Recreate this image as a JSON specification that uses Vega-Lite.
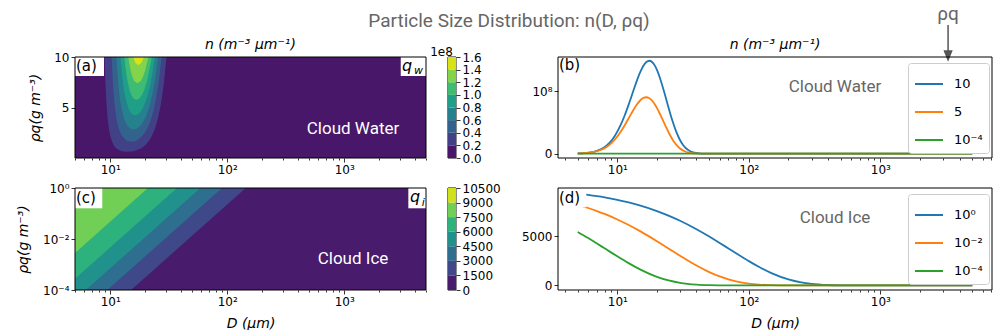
{
"$schema": "https://vega.github.io/schema/vega-lite/v6.json",
"background": "white",
"padding": {"left": 16, "top": 5, "right": 0, "bottom": 0},
"config": {
  "view": {"stroke": null},
  "axis": {"labelFont": "DejaVu Sans", "labelFontSize": 12, "labelColor": "#000", "tickColor": "#000", "tickWidth": 0.8, "domain": false, "grid": false, "titleFont": "DejaVu Sans", "titleFontSize": 14, "titleFontWeight": "normal", "titleFontStyle": "italic", "titleColor": "#000", "labelPadding": 2, "zindex": 1, "labelOverlap": false, "labelFlush": false}
},
"datasets": {
  "contourW": [
    {"level":0.2,"q":0.614,"Dlo":14.0,"Dhi":14.0},{"level":0.2,"q":0.634,"Dlo":13.16,"Dhi":14.95},{"level":0.2,"q":0.67,"Dlo":12.65,"Dhi":15.64},{"level":0.2,"q":0.716,"Dlo":12.27,"Dhi":16.27},{"level":0.2,"q":0.83,"Dlo":11.68,"Dhi":17.36},{"level":0.2,"q":0.972,"Dlo":11.25,"Dhi":18.37},{"level":0.2,"q":1.069,"Dlo":11.04,"Dhi":18.93},{"level":0.2,"q":1.222,"Dlo":10.79,"Dhi":19.67},{"level":0.2,"q":1.456,"Dlo":10.51,"Dhi":20.61},{"level":0.2,"q":1.79,"Dlo":10.24,"Dhi":21.68},{"level":0.2,"q":2.174,"Dlo":10.02,"Dhi":22.66},{"level":0.2,"q":2.831,"Dlo":9.76,"Dhi":23.98},{"level":0.2,"q":3.814,"Dlo":9.52,"Dhi":25.46},{"level":0.2,"q":5.216,"Dlo":9.31,"Dhi":27.01},{"level":0.2,"q":7.08,"Dlo":9.12,"Dhi":28.54},{"level":0.2,"q":10,"Dlo":8.94,"Dhi":30.3},
    {"level":0.4,"q":1.611,"Dlo":15.12,"Dhi":15.12},{"level":0.4,"q":1.661,"Dlo":14.22,"Dhi":16.14},{"level":0.4,"q":1.757,"Dlo":13.67,"Dhi":16.9},{"level":0.4,"q":1.877,"Dlo":13.26,"Dhi":17.57},{"level":0.4,"q":2.176,"Dlo":12.62,"Dhi":18.76},{"level":0.4,"q":2.548,"Dlo":12.16,"Dhi":19.84},{"level":0.4,"q":2.803,"Dlo":11.93,"Dhi":20.45},{"level":0.4,"q":3.204,"Dlo":11.66,"Dhi":21.25},{"level":0.4,"q":3.82,"Dlo":11.35,"Dhi":22.27},{"level":0.4,"q":4.694,"Dlo":11.06,"Dhi":23.42},{"level":0.4,"q":5.7,"Dlo":10.82,"Dhi":24.48},{"level":0.4,"q":7.424,"Dlo":10.54,"Dhi":25.9},{"level":0.4,"q":10,"Dlo":10.28,"Dhi":27.5},
    {"level":0.6,"q":2.827,"Dlo":15.82,"Dhi":15.82},{"level":0.6,"q":2.914,"Dlo":14.87,"Dhi":16.89},{"level":0.6,"q":3.082,"Dlo":14.3,"Dhi":17.68},{"level":0.6,"q":3.293,"Dlo":13.87,"Dhi":18.38},{"level":0.6,"q":3.818,"Dlo":13.2,"Dhi":19.62},{"level":0.6,"q":4.47,"Dlo":12.72,"Dhi":20.75},{"level":0.6,"q":4.919,"Dlo":12.48,"Dhi":21.39},{"level":0.6,"q":5.621,"Dlo":12.19,"Dhi":22.23},{"level":0.6,"q":6.701,"Dlo":11.87,"Dhi":23.29},{"level":0.6,"q":8.237,"Dlo":11.57,"Dhi":24.5},{"level":0.6,"q":10,"Dlo":11.32,"Dhi":25.61},
    {"level":0.8,"q":4.218,"Dlo":16.33,"Dhi":16.33},{"level":0.8,"q":4.349,"Dlo":15.36,"Dhi":17.44},{"level":0.8,"q":4.599,"Dlo":14.76,"Dhi":18.25},{"level":0.8,"q":4.914,"Dlo":14.32,"Dhi":18.98},{"level":0.8,"q":5.697,"Dlo":13.63,"Dhi":20.26},{"level":0.8,"q":6.671,"Dlo":13.13,"Dhi":21.43},{"level":0.8,"q":7.34,"Dlo":12.88,"Dhi":22.09},{"level":0.8,"q":8.389,"Dlo":12.59,"Dhi":22.95},{"level":0.8,"q":10,"Dlo":12.26,"Dhi":24.05},
    {"level":1.0,"q":5.747,"Dlo":16.74,"Dhi":16.74},{"level":1.0,"q":5.925,"Dlo":15.74,"Dhi":17.87},{"level":1.0,"q":6.266,"Dlo":15.13,"Dhi":18.71},{"level":1.0,"q":6.695,"Dlo":14.68,"Dhi":19.46},{"level":1.0,"q":7.761,"Dlo":13.97,"Dhi":20.77},{"level":1.0,"q":9.088,"Dlo":13.46,"Dhi":21.96},{"level":1.0,"q":10,"Dlo":13.21,"Dhi":22.64},
    {"level":1.2,"q":7.405,"Dlo":17.08,"Dhi":17.08},{"level":1.2,"q":7.634,"Dlo":16.06,"Dhi":18.24},{"level":1.2,"q":8.073,"Dlo":15.44,"Dhi":19.09},{"level":1.2,"q":8.627,"Dlo":14.98,"Dhi":19.85},{"level":1.2,"q":10,"Dlo":14.26,"Dhi":21.19},
    {"level":1.4,"q":9.171,"Dlo":17.38,"Dhi":17.38},{"level":1.4,"q":9.456,"Dlo":16.34,"Dhi":18.55},{"level":1.4,"q":10,"Dlo":15.71,"Dhi":19.42}
  ],
  "contourI": [
    {"level":1500,"q":0.0001,"D":15.07},{"level":1500,"q":1,"D":143.9},
    {"level":3000,"q":0.0001,"D":9.45},{"level":3000,"q":1,"D":90.2},
    {"level":4500,"q":0.0001,"D":6.19},{"level":4500,"q":1,"D":59.1},
    {"level":6000,"q":0.000277,"D":5},{"level":6000,"q":1,"D":37.2},
    {"level":7500,"q":0.00284,"D":5},{"level":7500,"q":1,"D":21.0},
    {"level":9000,"q":0.181,"D":5},{"level":9000,"q":1,"D":7.6}
  ],
  "linesW": [
    {"rho":"10","D":5,"n":399000},{"rho":"10","D":6.125,"n":1833000},{"rho":"10","D":7,"n":4595000},{"rho":"10","D":7.875,"n":9679000},{"rho":"10","D":8.75,"n":17800000},{"rho":"10","D":9.625,"n":29310000},{"rho":"10","D":10.5,"n":44030000},{"rho":"10","D":11.375,"n":61270000},{"rho":"10","D":12.25,"n":79880000},{"rho":"10","D":13.125,"n":98440000},{"rho":"10","D":14,"n":115510000},{"rho":"10","D":14.875,"n":129830000},{"rho":"10","D":15.75,"n":140470000},{"rho":"10","D":16.625,"n":146900000},{"rho":"10","D":17.5,"n":149000000},{"rho":"10","D":18.375,"n":147030000},{"rho":"10","D":19.25,"n":141510000},{"rho":"10","D":20.125,"n":133130000},{"rho":"10","D":21,"n":122670000},{"rho":"10","D":22.75,"n":98490000},{"rho":"10","D":24.5,"n":74080000},{"rho":"10","D":26.25,"n":52670000},{"rho":"10","D":28,"n":35660000},{"rho":"10","D":29.75,"n":23130000},{"rho":"10","D":31.5,"n":14430000},{"rho":"10","D":35,"n":5097000},{"rho":"10","D":38.5,"n":1614000},{"rho":"10","D":43.75,"n":243000},{"rho":"10","D":52.5,"n":7400},{"rho":"10","D":70,"n":0},{"rho":"10","D":5000,"n":0},
    {"rho":"5","D":5,"n":373000},{"rho":"5","D":5.796,"n":1113000},{"rho":"5","D":6.624,"n":2790000},{"rho":"5","D":7.452,"n":5876000},{"rho":"5","D":8.28,"n":10806000},{"rho":"5","D":9.108,"n":17794000},{"rho":"5","D":9.936,"n":26730000},{"rho":"5","D":10.764,"n":37199000},{"rho":"5","D":11.592,"n":48497000},{"rho":"5","D":12.42,"n":59767000},{"rho":"5","D":13.248,"n":70126000},{"rho":"5","D":14.076,"n":78822000},{"rho":"5","D":14.904,"n":85279000},{"rho":"5","D":15.732,"n":89183000},{"rho":"5","D":16.56,"n":90460000},{"rho":"5","D":17.388,"n":89264000},{"rho":"5","D":18.216,"n":85912000},{"rho":"5","D":19.044,"n":80825000},{"rho":"5","D":19.872,"n":74474000},{"rho":"5","D":21.528,"n":59794000},{"rho":"5","D":23.184,"n":44975000},{"rho":"5","D":24.84,"n":31978000},{"rho":"5","D":26.496,"n":21651000},{"rho":"5","D":28.152,"n":14040000},{"rho":"5","D":29.808,"n":8763000},{"rho":"5","D":33.12,"n":3095000},{"rho":"5","D":36.432,"n":980000},{"rho":"5","D":41.4,"n":147000},{"rho":"5","D":49.68,"n":4500},{"rho":"5","D":70,"n":0},{"rho":"5","D":5000,"n":0},
    {"rho":"10⁻⁴","D":5,"n":21600},{"rho":"10⁻⁴","D":7,"n":37400},{"rho":"10⁻⁴","D":10,"n":16600},{"rho":"10⁻⁴","D":15,"n":540},{"rho":"10⁻⁴","D":30,"n":0},{"rho":"10⁻⁴","D":5000,"n":0}
  ],
  "linesI": [
    {"rho":"10⁰","D":5,"n":9324},{"rho":"10⁰","D":6,"n":9194},{"rho":"10⁰","D":7,"n":9066},{"rho":"10⁰","D":8,"n":8940},{"rho":"10⁰","D":10,"n":8694},{"rho":"10⁰","D":12,"n":8454},{"rho":"10⁰","D":15,"n":8106},{"rho":"10⁰","D":20,"n":7558},{"rho":"10⁰","D":25,"n":7047},{"rho":"10⁰","D":30,"n":6571},{"rho":"10⁰","D":40,"n":5712},{"rho":"10⁰","D":50,"n":4966},{"rho":"10⁰","D":60,"n":4317},{"rho":"10⁰","D":70,"n":3753},{"rho":"10⁰","D":80,"n":3263},{"rho":"10⁰","D":100,"n":2466},{"rho":"10⁰","D":120,"n":1864},{"rho":"10⁰","D":150,"n":1225},{"rho":"10⁰","D":200,"n":608},{"rho":"10⁰","D":250,"n":302},{"rho":"10⁰","D":300,"n":150},{"rho":"10⁰","D":400,"n":37},{"rho":"10⁰","D":500,"n":9},{"rho":"10⁰","D":700,"n":0},{"rho":"10⁰","D":1000,"n":0},{"rho":"10⁰","D":5000,"n":0},
    {"rho":"10⁻²","D":5,"n":8187},{"rho":"10⁻²","D":6,"n":7866},{"rho":"10⁻²","D":7,"n":7558},{"rho":"10⁻²","D":8,"n":7261},{"rho":"10⁻²","D":10,"n":6703},{"rho":"10⁻²","D":12,"n":6188},{"rho":"10⁻²","D":15,"n":5488},{"rho":"10⁻²","D":20,"n":4493},{"rho":"10⁻²","D":25,"n":3679},{"rho":"10⁻²","D":30,"n":3012},{"rho":"10⁻²","D":40,"n":2019},{"rho":"10⁻²","D":50,"n":1353},{"rho":"10⁻²","D":60,"n":907},{"rho":"10⁻²","D":70,"n":608},{"rho":"10⁻²","D":80,"n":408},{"rho":"10⁻²","D":100,"n":183},{"rho":"10⁻²","D":120,"n":82},{"rho":"10⁻²","D":150,"n":25},{"rho":"10⁻²","D":200,"n":3},{"rho":"10⁻²","D":300,"n":0},{"rho":"10⁻²","D":5000,"n":0},
    {"rho":"10⁻⁴","D":5,"n":5434},{"rho":"10⁻⁴","D":6,"n":4810},{"rho":"10⁻⁴","D":7,"n":4257},{"rho":"10⁻⁴","D":8,"n":3768},{"rho":"10⁻⁴","D":10,"n":2952},{"rho":"10⁻⁴","D":12,"n":2313},{"rho":"10⁻⁴","D":15,"n":1604},{"rho":"10⁻⁴","D":20,"n":872},{"rho":"10⁻⁴","D":25,"n":474},{"rho":"10⁻⁴","D":30,"n":257},{"rho":"10⁻⁴","D":40,"n":76},{"rho":"10⁻⁴","D":50,"n":22},{"rho":"10⁻⁴","D":60,"n":7},{"rho":"10⁻⁴","D":80,"n":1},{"rho":"10⁻⁴","D":100,"n":0},{"rho":"10⁻⁴","D":5000,"n":0}
  ],
  "cbW": [
    {"k":0,"lo":0,"hi":20000000},{"k":1,"lo":20000000,"hi":40000000},{"k":2,"lo":40000000,"hi":60000000},{"k":3,"lo":60000000,"hi":80000000},{"k":4,"lo":80000000,"hi":100000000},{"k":5,"lo":100000000,"hi":120000000},{"k":6,"lo":120000000,"hi":140000000},{"k":7,"lo":140000000,"hi":160000000}
  ],
  "cbI": [
    {"k":0,"lo":0,"hi":1500},{"k":1,"lo":1500,"hi":3000},{"k":2,"lo":3000,"hi":4500},{"k":3,"lo":4500,"hi":6000},{"k":4,"lo":6000,"hi":7500},{"k":5,"lo":7500,"hi":9000},{"k":6,"lo":9000,"hi":10500}
  ]
},
"bounds": "flush",
"columns": 2,
"spacing": {"row": 30, "column": 132},
"resolve": {"scale": {"color": "independent"}, "legend": {"color": "independent"}},
"concat": [
  {"width": 351, "height": 101,
   "view": {"fill": "#481769", "stroke": null},
   "resolve": {"scale": {"y": "independent"}},
   "layer": [
    {"layer": [
     {"data": {"name": "contourW"}, "transform": [{"filter": "datum.level == 0.2"}],
      "mark": {"type": "area", "orient": "horizontal", "color": "#424086", "opacity": 1},
      "encoding": {
       "y": {"field": "q", "type": "quantitative", "scale": {"domain": [0.0001, 10], "nice": false, "zero": false},
             "axis": {"values": [5, 10], "format": "d", "title": "ρq(g m⁻³)", "titlePadding": 11, "tickSize": 4, "labelOverlap": false}},
       "x": {"field": "Dlo", "type": "quantitative", "scale": {"type": "log", "domain": [5, 5000], "nice": false},
             "axis": {"values": [5,6,7,8,9,10,20,30,40,50,60,70,80,90,100,200,300,400,500,600,700,800,900,1000,2000,3000,4000,5000],
                      "labelExpr": "datum.value == 10 ? '10¹' : datum.value == 100 ? '10²' : datum.value == 1000 ? '10³' : ''",
                      "tickSize": {"condition": {"test": "datum.value == 10 || datum.value == 100 || datum.value == 1000", "value": 4}, "value": 2},
                      "title": null, "labelOverlap": false}},
       "x2": {"field": "Dhi"}}},
     {"data": {"name": "contourW"}, "transform": [{"filter": "datum.level == 0.4"}], "mark": {"type": "area", "orient": "horizontal", "color": "#33638d", "opacity": 1},
      "encoding": {"y": {"field": "q", "type": "quantitative"}, "x": {"field": "Dlo", "type": "quantitative"}, "x2": {"field": "Dhi"}}},
     {"data": {"name": "contourW"}, "transform": [{"filter": "datum.level == 0.6"}], "mark": {"type": "area", "orient": "horizontal", "color": "#26818e", "opacity": 1},
      "encoding": {"y": {"field": "q", "type": "quantitative"}, "x": {"field": "Dlo", "type": "quantitative"}, "x2": {"field": "Dhi"}}},
     {"data": {"name": "contourW"}, "transform": [{"filter": "datum.level == 0.8"}], "mark": {"type": "area", "orient": "horizontal", "color": "#1f9f88", "opacity": 1},
      "encoding": {"y": {"field": "q", "type": "quantitative"}, "x": {"field": "Dlo", "type": "quantitative"}, "x2": {"field": "Dhi"}}},
     {"data": {"name": "contourW"}, "transform": [{"filter": "datum.level == 1.0"}], "mark": {"type": "area", "orient": "horizontal", "color": "#3fbc73", "opacity": 1},
      "encoding": {"y": {"field": "q", "type": "quantitative"}, "x": {"field": "Dlo", "type": "quantitative"}, "x2": {"field": "Dhi"}}},
     {"data": {"name": "contourW"}, "transform": [{"filter": "datum.level == 1.2"}], "mark": {"type": "area", "orient": "horizontal", "color": "#84d44b", "opacity": 1},
      "encoding": {"y": {"field": "q", "type": "quantitative"}, "x": {"field": "Dlo", "type": "quantitative"}, "x2": {"field": "Dhi"}}},
     {"data": {"name": "contourW"}, "transform": [{"filter": "datum.level == 1.4"}], "mark": {"type": "area", "orient": "horizontal", "color": "#d8e219", "opacity": 1},
      "encoding": {"y": {"field": "q", "type": "quantitative"}, "x": {"field": "Dlo", "type": "quantitative"}, "x2": {"field": "Dhi"}}},
     {"data": {"values": [{}]}, "mark": {"type": "rect", "fill": "white"},
      "encoding": {"x": {"datum": 5}, "x2": {"datum": 8.85}, "y": {"datum": 8.12}, "y2": {"datum": 10}}},
     {"data": {"values": [{}]}, "mark": {"type": "rect", "fill": "white"},
      "encoding": {"x": {"datum": 3041}, "x2": {"datum": 5000}, "y": {"datum": 8.12}, "y2": {"datum": 10}}},
     {"data": {"values": [{}]}, "mark": {"type": "text", "text": "(a)", "align": "left", "baseline": "middle", "font": "DejaVu Sans", "fontSize": 15, "color": "#000"},
      "encoding": {"x": {"datum": 5.1}, "y": {"datum": 9.06}}},
     {"data": {"values": [{}]}, "mark": {"type": "text", "text": "q", "align": "left", "baseline": "alphabetic", "font": "DejaVu Sans", "fontStyle": "italic", "fontSize": 16, "color": "#000"},
      "encoding": {"x": {"datum": 3119}, "y": {"datum": 8.66}}},
     {"data": {"values": [{}]}, "mark": {"type": "text", "text": "w", "align": "left", "baseline": "alphabetic", "font": "DejaVu Sans", "fontStyle": "italic", "fontSize": 11, "color": "#000"},
      "encoding": {"x": {"datum": 3945}, "y": {"datum": 8.32}}},
     {"data": {"values": [{}]}, "mark": {"type": "text", "text": "Cloud Water", "align": "center", "baseline": "middle", "font": "Roboto", "fontSize": 17, "color": "white"},
      "encoding": {"x": {"datum": 1189}, "y": {"datum": 2.92}}},
     {"data": {"values": [{}]}, "mark": {"type": "text", "text": "n (m⁻³ μm⁻¹)", "align": "center", "baseline": "alphabetic", "font": "DejaVu Sans", "fontStyle": "italic", "fontSize": 14, "color": "#000"},
      "encoding": {"x": {"datum": 158}, "y": {"datum": 10.79}}},
     {"data": {"values": [{}]}, "mark": {"type": "rect", "fill": "transparent", "stroke": "#000", "strokeWidth": 1},
      "encoding": {"x": {"datum": 5}, "x2": {"datum": 5000}, "y": {"datum": 0.0001}, "y2": {"datum": 10}}},
     {"data": {"values": [{}]}, "mark": {"type": "rect", "fill": "transparent", "stroke": "#000", "strokeWidth": 1},
      "encoding": {"x": {"datum": 7709}, "x2": {"datum": 9016}, "y": {"datum": 0.0001}, "y2": {"datum": 10}}}
    ]},
    {"data": {"name": "cbW"}, "mark": {"type": "rect"},
     "encoding": {
      "x": {"datum": 7709}, "x2": {"datum": 9016},
      "y": {"field": "lo", "type": "quantitative", "scale": {"domain": [0, 160000000], "nice": false, "zero": false},
            "axis": {"orient": "right", "offset": 30, "values": [0,20000000,40000000,60000000,80000000,100000000,120000000,140000000,160000000],
                     "labelExpr": "format(datum.value / 100000000, '.1f')", "tickSize": 4, "labelOverlap": false,
                     "title": "1e8", "titleAngle": 0, "titleAlign": "center", "titleBaseline": "alphabetic", "titleX": -15, "titleY": -2, "titleFontStyle": "normal", "titleFontSize": 12}},
      "y2": {"field": "hi"},
      "color": {"field": "k", "type": "ordinal", "scale": {"domain": [0,1,2,3,4,5,6,7], "range": ["#481769","#424086","#33638d","#26818e","#1f9f88","#3fbc73","#84d44b","#d8e219"]}, "legend": null}}}
   ]},
  {"width": 434, "height": 101,
   "layer": [
    {"data": {"name": "linesW"}, "mark": {"type": "line", "strokeWidth": 1.8, "interpolate": "monotone"},
     "encoding": {
      "x": {"field": "D", "type": "quantitative", "scale": {"type": "log", "domain": [3.54, 7063], "nice": false},
            "axis": {"values": [4,5,6,7,8,9,10,20,30,40,50,60,70,80,90,100,200,300,400,500,600,700,800,900,1000,2000,3000,4000,5000,6000,7000],
                     "labelExpr": "datum.value == 10 ? '10¹' : datum.value == 100 ? '10²' : datum.value == 1000 ? '10³' : ''",
                     "tickSize": {"condition": {"test": "datum.value == 10 || datum.value == 100 || datum.value == 1000", "value": 4}, "value": 2},
                     "title": null, "labelOverlap": false}},
      "y": {"field": "n", "type": "quantitative", "scale": {"domain": [-6900000, 155000000], "nice": false, "zero": false},
            "axis": {"values": [0, 100000000], "labelExpr": "datum.value == 0 ? '0' : '10⁸'", "title": null, "tickSize": 4, "labelOverlap": false}},
      "color": {"field": "rho", "type": "nominal", "scale": {"domain": ["10", "5", "10⁻⁴"], "range": ["#1f77b4", "#ff7f0e", "#2ca02c"]},
                "legend": {"title": null, "orient": "none", "legendX": 350, "legendY": 6, "symbolType": "stroke", "symbolSize": 784, "symbolStrokeWidth": 2, "labelFont": "DejaVu Sans", "labelFontSize": 13, "labelColor": "#000", "padding": 6, "strokeColor": "#cccccc", "fillColor": "#ffffff", "cornerRadius": 3, "rowPadding": 6, "labelOffset": 10}}}},
    {"data": {"values": [{}]}, "mark": {"type": "rect", "fill": "white"},
     "encoding": {"x": {"datum": 3.54}, "x2": {"datum": 5.81}, "y": {"datum": 126200000}, "y2": {"datum": 155000000}}},
    {"data": {"values": [{}]}, "mark": {"type": "text", "text": "(b)", "align": "left", "baseline": "middle", "font": "DejaVu Sans", "fontSize": 15, "color": "#000"},
     "encoding": {"x": {"datum": 3.6}, "y": {"datum": 141400000}}},
    {"data": {"values": [{}]}, "mark": {"type": "text", "text": "Cloud Water", "align": "center", "baseline": "middle", "font": "Roboto", "fontSize": 17, "color": "#666666"},
     "encoding": {"x": {"datum": 452}, "y": {"datum": 106900000}}},
    {"data": {"values": [{}]}, "mark": {"type": "text", "text": "n (m⁻³ μm⁻¹)", "align": "center", "baseline": "alphabetic", "font": "DejaVu Sans", "fontStyle": "italic", "fontSize": 14, "color": "#000"},
     "encoding": {"x": {"datum": 158.5}, "y": {"datum": 167800000}}},
    {"data": {"values": [{}]}, "mark": {"type": "text", "text": "Particle Size Distribution: n(D, ρq)", "align": "center", "baseline": "alphabetic", "font": "Roboto", "fontSize": 19, "color": "#666666"},
     "encoding": {"x": {"datum": 1.5}, "y": {"datum": 203000000}}},
    {"data": {"values": [{}]}, "mark": {"type": "text", "text": "ρq", "align": "center", "baseline": "alphabetic", "font": "Roboto", "fontSize": 19, "color": "#666666"},
     "encoding": {"x": {"datum": 3273}, "y": {"datum": 214300000}}},
    {"data": {"values": [{}]}, "mark": {"type": "rule", "color": "#555555", "strokeWidth": 1.5},
     "encoding": {"x": {"datum": 3273}, "y": {"datum": 206200000}, "y2": {"datum": 163000000}}},
    {"data": {"values": [{}]}, "mark": {"type": "point", "shape": "M -0.8 -1 L 0.8 -1 L 0 1 Z", "filled": true, "color": "#555555", "opacity": 1, "size": 135},
     "encoding": {"x": {"datum": 3273}, "y": {"datum": 156600000}}},
    {"data": {"values": [{}]}, "mark": {"type": "rect", "fill": "transparent", "stroke": "#000", "strokeWidth": 1},
     "encoding": {"x": {"datum": 3.54}, "x2": {"datum": 7063}, "y": {"datum": -6900000}, "y2": {"datum": 155000000}}}
   ]},
  {"width": 351, "height": 102,
   "view": {"fill": "#481b6d", "stroke": null},
   "resolve": {"scale": {"y": "independent"}},
   "layer": [
    {"layer": [
     {"data": {"name": "contourI"}, "transform": [{"filter": "datum.level == 1500"}],
      "mark": {"type": "area", "orient": "horizontal", "color": "#3f4889", "opacity": 1},
      "encoding": {
       "y": {"field": "q", "type": "quantitative", "scale": {"type": "log", "domain": [0.0001, 1], "nice": false},
             "axis": {"values": [0.0001, 0.01, 1], "labelExpr": "datum.value > 0.5 ? '10⁰' : datum.value > 0.005 ? '10⁻²' : '10⁻⁴'", "title": "ρq(g m⁻³)", "titlePadding": 12, "tickSize": 4, "labelOverlap": false}},
       "x": {"field": "D", "type": "quantitative", "scale": {"type": "log", "domain": [5, 5000], "nice": false},
             "axis": {"values": [5,6,7,8,9,10,20,30,40,50,60,70,80,90,100,200,300,400,500,600,700,800,900,1000,2000,3000,4000,5000],
                      "labelExpr": "datum.value == 10 ? '10¹' : datum.value == 100 ? '10²' : datum.value == 1000 ? '10³' : ''",
                      "tickSize": {"condition": {"test": "datum.value == 10 || datum.value == 100 || datum.value == 1000", "value": 4}, "value": 2},
                      "title": "D (μm)", "titlePadding": 9, "labelOverlap": false}},
       "x2": {"datum": 5}}},
     {"data": {"name": "contourI"}, "transform": [{"filter": "datum.level == 3000"}], "mark": {"type": "area", "orient": "horizontal", "color": "#2e6e8e", "opacity": 1},
      "encoding": {"y": {"field": "q", "type": "quantitative"}, "x": {"field": "D", "type": "quantitative"}, "x2": {"datum": 5}}},
     {"data": {"name": "contourI"}, "transform": [{"filter": "datum.level == 4500"}], "mark": {"type": "area", "orient": "horizontal", "color": "#21918c", "opacity": 1},
      "encoding": {"y": {"field": "q", "type": "quantitative"}, "x": {"field": "D", "type": "quantitative"}, "x2": {"datum": 5}}},
     {"data": {"name": "contourI"}, "transform": [{"filter": "datum.level == 6000"}], "mark": {"type": "area", "orient": "horizontal", "color": "#2db27d", "opacity": 1},
      "encoding": {"y": {"field": "q", "type": "quantitative"}, "x": {"field": "D", "type": "quantitative"}, "x2": {"datum": 5}}},
     {"data": {"name": "contourI"}, "transform": [{"filter": "datum.level == 7500"}], "mark": {"type": "area", "orient": "horizontal", "color": "#72cf56", "opacity": 1},
      "encoding": {"y": {"field": "q", "type": "quantitative"}, "x": {"field": "D", "type": "quantitative"}, "x2": {"datum": 5}}},
     {"data": {"name": "contourI"}, "transform": [{"filter": "datum.level == 9000"}], "mark": {"type": "area", "orient": "horizontal", "color": "#cfe11d", "opacity": 1},
      "encoding": {"y": {"field": "q", "type": "quantitative"}, "x": {"field": "D", "type": "quantitative"}, "x2": {"datum": 5}}},
     {"data": {"values": [{}]}, "mark": {"type": "rect", "fill": "white"},
      "encoding": {"x": {"datum": 5}, "x2": {"datum": 8.55}, "y": {"datum": 0.16}, "y2": {"datum": 1}}},
     {"data": {"values": [{}]}, "mark": {"type": "rect", "fill": "white"},
      "encoding": {"x": {"datum": 3532}, "x2": {"datum": 5000}, "y": {"datum": 0.16}, "y2": {"datum": 1}}},
     {"data": {"values": [{}]}, "mark": {"type": "text", "text": "(c)", "align": "left", "baseline": "middle", "font": "DejaVu Sans", "fontSize": 15, "color": "#000"},
      "encoding": {"x": {"datum": 5.1}, "y": {"datum": 0.405}}},
     {"data": {"values": [{}]}, "mark": {"type": "text", "text": "q", "align": "left", "baseline": "alphabetic", "font": "DejaVu Sans", "fontStyle": "italic", "fontSize": 16, "color": "#000"},
      "encoding": {"x": {"datum": 3650}, "y": {"datum": 0.2825}}},
     {"data": {"values": [{}]}, "mark": {"type": "text", "text": "i", "align": "left", "baseline": "alphabetic", "font": "DejaVu Sans", "fontStyle": "italic", "fontSize": 11, "color": "#000"},
      "encoding": {"x": {"datum": 4592}, "y": {"datum": 0.197}}},
     {"data": {"values": [{}]}, "mark": {"type": "text", "text": "Cloud Ice", "align": "center", "baseline": "middle", "font": "Roboto", "fontSize": 17, "color": "white"},
      "encoding": {"x": {"datum": 1189}, "y": {"datum": 0.00164}}},
     {"data": {"values": [{}]}, "mark": {"type": "rect", "fill": "transparent", "stroke": "#000", "strokeWidth": 1},
      "encoding": {"x": {"datum": 5}, "x2": {"datum": 5000}, "y": {"datum": 0.0001}, "y2": {"datum": 1}}},
     {"data": {"values": [{}]}, "mark": {"type": "rect", "fill": "transparent", "stroke": "#000", "strokeWidth": 1},
      "encoding": {"x": {"datum": 7709}, "x2": {"datum": 9016}, "y": {"datum": 0.0001}, "y2": {"datum": 1}}}
    ]},
    {"data": {"name": "cbI"}, "mark": {"type": "rect"},
     "encoding": {
      "x": {"datum": 7709}, "x2": {"datum": 9016},
      "y": {"field": "lo", "type": "quantitative", "scale": {"domain": [0, 10500], "nice": false, "zero": false},
            "axis": {"orient": "right", "offset": 30, "values": [0,1500,3000,4500,6000,7500,9000,10500], "format": "d", "tickSize": 4, "title": null, "labelOverlap": false}},
      "y2": {"field": "hi"},
      "color": {"field": "k", "type": "ordinal", "scale": {"domain": [0,1,2,3,4,5,6], "range": ["#481b6d","#3f4889","#2e6e8e","#21918c","#2db27d","#72cf56","#cfe11d"]}, "legend": null}}}
   ]},
  {"width": 434, "height": 102,
   "layer": [
    {"data": {"name": "linesI"}, "mark": {"type": "line", "strokeWidth": 1.8, "interpolate": "monotone"},
     "encoding": {
      "x": {"field": "D", "type": "quantitative", "scale": {"type": "log", "domain": [3.54, 7063], "nice": false},
            "axis": {"values": [4,5,6,7,8,9,10,20,30,40,50,60,70,80,90,100,200,300,400,500,600,700,800,900,1000,2000,3000,4000,5000,6000,7000],
                     "labelExpr": "datum.value == 10 ? '10¹' : datum.value == 100 ? '10²' : datum.value == 1000 ? '10³' : ''",
                     "tickSize": {"condition": {"test": "datum.value == 10 || datum.value == 100 || datum.value == 1000", "value": 4}, "value": 2},
                     "title": "D (μm)", "titlePadding": 9, "labelOverlap": false}},
      "y": {"field": "n", "type": "quantitative", "scale": {"domain": [-470, 9900], "nice": false, "zero": false},
            "axis": {"values": [0, 5000], "format": "d", "title": null, "tickSize": 4, "labelOverlap": false}},
      "color": {"field": "rho", "type": "nominal", "scale": {"domain": ["10⁰", "10⁻²", "10⁻⁴"], "range": ["#1f77b4", "#ff7f0e", "#2ca02c"]},
                "legend": {"title": null, "orient": "none", "legendX": 350, "legendY": 6, "symbolType": "stroke", "symbolSize": 784, "symbolStrokeWidth": 2, "labelFont": "DejaVu Sans", "labelFontSize": 13, "labelColor": "#000", "padding": 6, "strokeColor": "#cccccc", "fillColor": "#ffffff", "cornerRadius": 3, "rowPadding": 6, "labelOffset": 10}}}},
    {"data": {"values": [{}]}, "mark": {"type": "rect", "fill": "white"},
     "encoding": {"x": {"datum": 3.54}, "x2": {"datum": 5.81}, "y": {"datum": 7930}, "y2": {"datum": 9900}}},
    {"data": {"values": [{}]}, "mark": {"type": "text", "text": "(d)", "align": "left", "baseline": "middle", "font": "DejaVu Sans", "fontSize": 15, "color": "#000"},
     "encoding": {"x": {"datum": 3.6}, "y": {"datum": 8916}}},
    {"data": {"values": [{}]}, "mark": {"type": "text", "text": "Cloud Ice", "align": "center", "baseline": "middle", "font": "Roboto", "fontSize": 17, "color": "#666666"},
     "encoding": {"x": {"datum": 452}, "y": {"datum": 6865}}},
    {"data": {"values": [{}]}, "mark": {"type": "rect", "fill": "transparent", "stroke": "#000", "strokeWidth": 1},
     "encoding": {"x": {"datum": 3.54}, "x2": {"datum": 7063}, "y": {"datum": -470}, "y2": {"datum": 9900}}}
   ]}
]
}
